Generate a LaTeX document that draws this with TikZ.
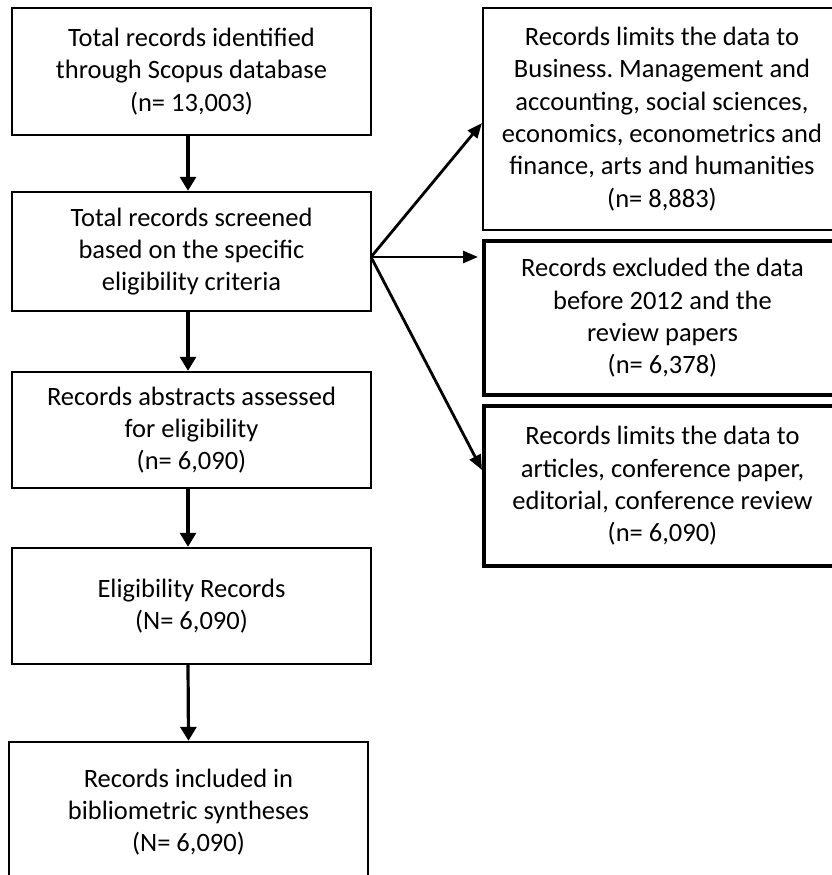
\documentclass[tikz,border=0pt]{standalone}
\usepackage{fontspec}
\setmainfont{Carlito}
\usetikzlibrary{arrows.meta}
\begin{document}
\frenchspacing
\begin{tikzpicture}[x=1pt,y=-1pt,
  box/.style={draw=black,line width=2.4pt,inner sep=0pt,align=center,
    font=\fontsize{26.5}{32.3}\selectfont},
  thickbox/.style={box,line width=3.8pt},
  arr/.style={line width=3.2pt,-{Triangle[width=16pt,length=14pt]}},
  darr/.style={line width=2.8pt,-{Triangle[width=12pt,length=15pt]}}]
\useasboundingbox (0,0) rectangle (832,875);
\node[box,minimum width=359pt,minimum height=127pt] (b1) at (191.5,71.5)
  {Total records identified\\through Scopus database\\(n= 13,003)};
\node[box,minimum width=359pt,minimum height=119pt] (b2) at (191.5,251.5)
  {Total records screened\\based on the specific\\eligibility criteria};
\node[box,minimum width=359pt,minimum height=116pt] (b3) at (191.5,430)
  {Records abstracts assessed\\for eligibility\\(n= 6,090)};
\node[box,minimum width=359pt,minimum height=116pt] (b4) at (191.5,606)
  {Eligibility Records\\(N= 6,090)};
\node[box,minimum width=359pt,minimum height=140pt] (b5) at (188.5,812)
  {Records included in\\bibliometric syntheses\\(N= 6,090)};
\node[box,minimum width=358pt,minimum height=222pt] (r1) at (662,119)
  {Records limits the data to\\Business. Management and\\accounting, social sciences,\\economics, econometrics and\\finance, arts and humanities\\(n= 8,883)};
\node[thickbox,minimum width=357pt,minimum height=154pt] (r2) at (662.5,318)
  {Records excluded the data\\before 2012 and the\\review papers\\(n= 6,378)};
\node[thickbox,minimum width=357pt,minimum height=160pt] (r3) at (662.5,486)
  {Records limits the data to\\articles, conference paper,\\editorial, conference review\\(n= 6,090)};
\coordinate (o) at (371,257);
\coordinate (e1) at (482,123);
\coordinate (e2) at (478,257);
\coordinate (e3) at (482,470);
\draw[arr] ([xshift=-3.5pt]b1.south) -- ([xshift=-3.5pt]b2.north);
\draw[arr] ([xshift=-3.5pt]b2.south) -- ([xshift=-3.5pt]b3.north);
\draw[arr] ([xshift=-3.5pt]b3.south) -- ([xshift=-3.5pt]b4.north);
\draw[arr] ([xshift=-3.5pt]b4.south) -- (b5.north);
\draw[darr] (o) -- (e1);
\draw[darr] (o) -- (e2);
\draw[darr] (o) -- (e3);
\end{tikzpicture}
\end{document}
